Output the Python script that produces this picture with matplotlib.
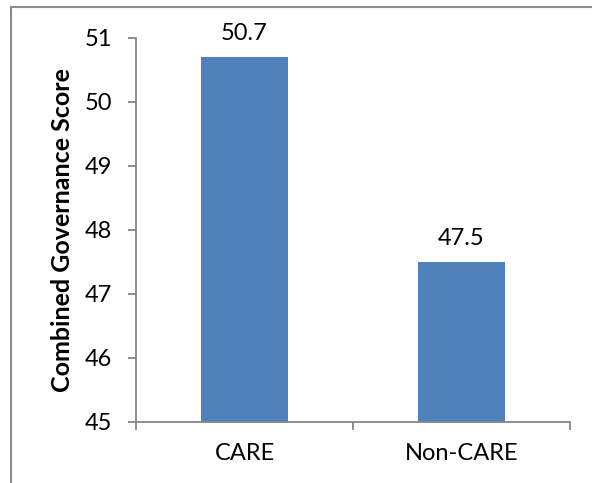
import matplotlib
matplotlib.use("Agg")
import matplotlib.pyplot as plt
from matplotlib.lines import Line2D

categories = ["CARE", "Non-CARE"]
scores = [50.7, 47.5]
score_labels = ["50.7", "47.5"]
y_ticks = [45, 46, 47, 48, 49, 50, 51]

plt.rcParams["font.family"] = ["Lato", "DejaVu Sans"]

axis_grey = "#868686"
bar_blue = "#4F81BD"
fs = 17

fig = plt.figure(figsize=(5.92, 4.83), dpi=100)
ax = fig.add_axes([136 / 592, 1 - 421.7 / 483, (570 - 136) / 592, (421.7 - 38) / 483])

x = list(range(len(categories)))
ax.bar(x, [s - 45 for s in scores], bottom=45, width=0.4, color=bar_blue, zorder=2)

for xi, s, lab in zip(x, scores, score_labels):
    ax.annotate(lab, (xi, s), xytext=(0, 9.5), textcoords="offset points",
                ha="center", va="bottom", fontsize=fs, color="black")

ax.set_xlim(-0.5, 1.5)
ax.set_ylim(45, 51)
ax.set_yticks(y_ticks)
ax.set_yticklabels([str(t) for t in y_ticks], fontsize=fs)
ax.set_xticks(x)
ax.set_xticklabels(categories, fontsize=fs)
ax.set_xticks([-0.5, 0.5, 1.5], minor=True)

ax.tick_params(axis="x", which="major", length=0, pad=15)
ax.tick_params(axis="x", which="minor", length=6, direction="out", color=axis_grey, width=1.3)
ax.tick_params(axis="y", length=6, direction="out", color=axis_grey, width=1.3, pad=11)

for side in ("top", "right"):
    ax.spines[side].set_visible(False)
for side in ("left", "bottom"):
    ax.spines[side].set_color(axis_grey)
    ax.spines[side].set_linewidth(1.3)

ax.set_ylabel("Combined Governance Score", fontsize=18, fontweight="bold", labelpad=8)

# outer chart frame (left and top edges)
fig.add_artist(Line2D([10.5 / 592, 10.5 / 592], [0, 1 - 7 / 483], transform=fig.transFigure,
                      color="#8c8c8c", linewidth=1.5))
fig.add_artist(Line2D([10.5 / 592, 1], [1 - 7 / 483, 1 - 7 / 483], transform=fig.transFigure,
                      color="#8c8c8c", linewidth=1.5))

fig.savefig("out.png", dpi=100)
